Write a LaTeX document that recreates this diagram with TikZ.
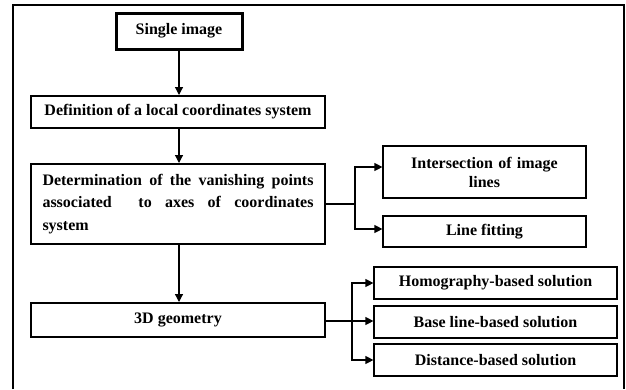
\documentclass[tikz,border=0pt]{standalone}
\usepackage{fontspec}
\setmainfont{Liberation Serif}
\usetikzlibrary{arrows.meta}
\begin{document}
\begin{tikzpicture}[x=1pt,y=-1pt,
  font=\fontsize{16}{19}\selectfont\bfseries,
  mainbox/.style={draw,line width=2pt,inner sep=0pt,minimum width=294pt,anchor=center},
  sidebox/.style={draw,line width=1.2pt,inner sep=0pt,anchor=center},
  conn/.style={line width=1.2pt,-{Triangle[length=8pt,width=8pt]}},
  plain/.style={line width=1.2pt}]
\useasboundingbox (0,0) rectangle (626,389);
\draw[line width=2.5pt] (13,389) -- (13,5) -- (624,5) -- (624,389);
\node[draw,line width=3pt,inner sep=0pt,minimum width=126pt,minimum height=36pt] (single) at (179,31) {Single image};
\node[mainbox,minimum height=32pt] (def) at (178,112) {Definition of a local coordinates system};
\node[mainbox,minimum height=80pt,text width=271pt,align=justify,font=\fontsize{16}{22.5}\selectfont\bfseries] (det) at (178,204) {Determination of the vanishing points\linebreak associated\ \ to axes of coordinates\linebreak system};
\node[mainbox,minimum height=34pt] (geo) at (178,320) {3D geometry};
\node[sidebox,minimum width=203pt,minimum height=52pt,text width=190pt,align=center] (inter) at (484.5,172) {Intersection of image\\lines};
\node[sidebox,minimum width=203pt,minimum height=31pt] (fit) at (484.5,231.5) {Line fitting};
\node[sidebox,minimum width=243pt,minimum height=32pt] (homo) at (495.5,283) {Homography-based solution};
\node[sidebox,minimum width=243pt,minimum height=32pt] (base) at (495.5,322) {Base line-based solution};
\node[sidebox,minimum width=243pt,minimum height=32pt] (dist) at (495.5,360) {Distance-based solution};
\coordinate (j1) at (355,204);
\coordinate (j2) at (352,321);
\draw[conn] (single.south) -- (single.south |- def.north);
\draw[conn] (single.south |- def.south) -- (single.south |- det.north);
\draw[conn] (single.south |- det.south) -- (single.south |- geo.north);
\draw[line width=2pt] (det.east |- j1) -- (j1);
\draw[conn] (j1) |- ([yshift=5pt]inter.west);
\draw[conn] (j1) |- ([yshift=2.5pt]fit.west);
\draw[plain] (geo.east |- j2) -- (j2);
\draw[conn] (j2) |- (homo.west);
\draw[conn] (j2) -- (j2 -| base.west);
\draw[conn] (j2) |- (dist.west);
\end{tikzpicture}
\end{document}
